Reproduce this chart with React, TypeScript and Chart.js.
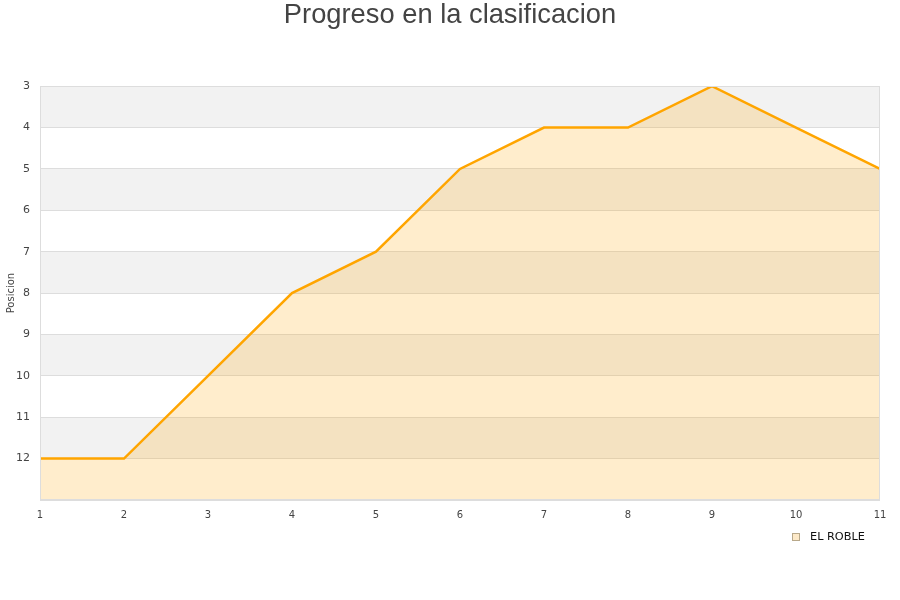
import React, { useEffect, useRef } from "react";
import { Chart, registerables } from "chart.js";

Chart.register(...registerables);

const jornadas: number[] = [1, 2, 3, 4, 5, 6, 7, 8, 9, 10, 11];
const posiciones: number[] = [12, 12, 10, 8, 7, 5, 4, 4, 3, 4, 5];
const teamName = "EL ROBLE";
const chartTitle = "Progreso en la clasificacion";
const yTitle = "Posicion";
const yMin = 3;
const yMax = 13;

const bandsPlugin = {
  id: "bands",
  beforeDraw(chart: any) {
    const { ctx, chartArea, scales } = chart;
    const y = scales.y;
    ctx.save();
    for (let v = yMin; v < yMax; v++) {
      const p1 = y.getPixelForValue(v);
      const p2 = y.getPixelForValue(v + 1);
      ctx.fillStyle = (v - yMin) % 2 === 0 ? "#f2f2f2" : "#ffffff";
      ctx.fillRect(chartArea.left, Math.min(p1, p2), chartArea.right - chartArea.left, Math.abs(p2 - p1));
    }
    ctx.restore();
  },
  afterDatasetsDraw(chart: any) {
    const { ctx, chartArea } = chart;
    ctx.save();
    ctx.strokeStyle = "#dddddd";
    ctx.lineWidth = 1;
    ctx.strokeRect(
      Math.round(chartArea.left) + 0.5,
      Math.round(chartArea.top) + 0.5,
      Math.round(chartArea.right - chartArea.left) - 1,
      Math.round(chartArea.bottom - chartArea.top) - 1
    );
    ctx.restore();
  },
  afterDraw(chart: any) {
    const { ctx, width, chartArea } = chart;
    ctx.save();
    // title centred on the whole canvas
    ctx.fillStyle = "#444444";
    ctx.font = "normal 27.3px 'Liberation Sans'";
    ctx.textAlign = "center";
    ctx.textBaseline = "middle";
    ctx.fillText(chartTitle, width / 2, 15.5);
    // legend
    const ly = chartArea.bottom + 37;
    const bx = 792;
    ctx.fillStyle = "#fde9c8";
    ctx.strokeStyle = "#b8a88a";
    ctx.lineWidth = 1;
    ctx.fillRect(bx + 0.5, ly - 3.5, 7, 7);
    ctx.strokeRect(bx + 0.5, ly - 3.5, 7, 7);
    ctx.fillStyle = "#111111";
    ctx.font = "normal 11.3px 'DejaVu Sans'";
    ctx.textAlign = "left";
    ctx.fillText(teamName, 810, ly);
    ctx.restore();
  },
};

export default function App() {
  const ref = useRef<HTMLCanvasElement | null>(null);
  useEffect(() => {
    if (!ref.current) return;
    const chart = new Chart(ref.current, {
      type: "line",
      data: {
        datasets: [
          {
            label: teamName,
            data: jornadas.map((j, i) => ({ x: j, y: posiciones[i] })),
            borderColor: "#ffa500",
            backgroundColor: "rgba(255,165,0,0.2)",
            borderWidth: 2.5,
            pointRadius: 0,
            tension: 0,
            fill: { value: yMax },
          },
        ],
      },
      options: {
        responsive: false,
        animation: false,
        layout: { padding: { left: 0, right: 20, top: 0, bottom: 70 } },
        plugins: {
          title: {
            display: true,
            text: chartTitle,
            color: "rgba(0,0,0,0)",
            font: { family: "Liberation Sans", size: 26, weight: "normal" },
            padding: { top: 0, bottom: 55 },
          },
          legend: { display: false },
          tooltip: { enabled: false },
        },
        scales: {
          x: {
            type: "linear",
            min: 1,
            max: 11,
            grid: { display: false, drawTicks: false },
            border: { display: false },
            ticks: {
              stepSize: 1,
              color: "#444444",
              font: { family: "DejaVu Sans", size: 10 },
              padding: 9,
            },
          },
          y: {
            type: "linear",
            reverse: true,
            min: yMin,
            max: yMax,
            grid: { color: "#dddddd", drawTicks: false },
            border: { display: false },
            ticks: {
              stepSize: 1,
              color: "#444444",
              font: { family: "DejaVu Sans", size: 11 },
              padding: 10,
              callback: (v: any) => (v === yMax ? "" : String(v)),
            },
            title: {
              display: true,
              text: yTitle,
              color: "#444444",
              font: { family: "DejaVu Sans", size: 10 },
              padding: { top: 5, bottom: 0 },
            },
            afterFit: (s: any) => {
              s.width = 40;
            },
          },
        },
      },
      plugins: [bandsPlugin],
    });
    return () => chart.destroy();
  }, []);
  return (
    <div style={{ position: "absolute", left: 0, top: 0, width: 900, height: 600, background: "#fff" }}>
      <canvas ref={ref} width={900} height={600} />
    </div>
  );
}
